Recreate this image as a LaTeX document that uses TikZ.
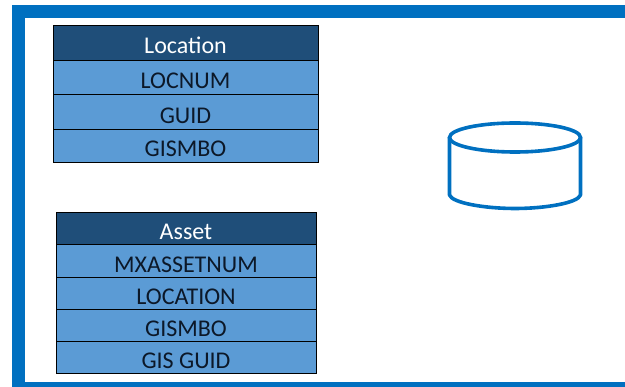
\documentclass[tikz,border=0pt]{standalone}
\usepackage{fontspec}
\setmainfont{Carlito}
\usetikzlibrary{positioning}
\definecolor{frameblue}{RGB}{0,112,192}
\definecolor{headblue}{RGB}{31,78,121}
\definecolor{rowblue}{RGB}{91,155,213}
\definecolor{rowtext}{RGB}{12,24,40}

\begin{document}
\begin{tikzpicture}[x=1pt,y=-1pt,node distance=0pt,line width=1pt]
  \tikzstyle{head}=[draw=black,fill=headblue,text=white,font=\fontsize{24}{28}\selectfont,
                    text height=22pt,text depth=0pt,inner sep=0pt,outer sep=0pt]
  \tikzstyle{row}=[draw=black,fill=rowblue,text=rowtext,font=\fontsize{24}{28}\selectfont,
                   text height=22pt,text depth=0pt,inner sep=0pt,outer sep=0pt]
  \useasboundingbox (0,0) rectangle (625,387);

  % frame
  \begin{scope}
    \clip (0,0) rectangle (625,387);
    \draw[frameblue,line width=13pt] (18.5,11.5) rectangle (660,388.5);
  \end{scope}

  % location table
  \node[head,minimum width=265pt,minimum height=35pt,anchor=north west] (location) at (53,25.5) {Location};
  \node[row,minimum width=265pt,minimum height=34.5pt] (locnum) [below=of location] {LOCNUM};
  \node[row,minimum width=265pt,minimum height=34.5pt] (guid) [below=of locnum] {GUID};
  \node[row,minimum width=265pt,minimum height=33pt] (locgismbo) [below=of guid] {GISMBO};

  % asset table
  \node[head,minimum width=260pt,minimum height=32.5pt,anchor=north west] (asset) at (56,212.5) {Asset};
  \node[row,minimum width=260pt,minimum height=32.5pt] (assetnum) [below=of asset] {MXASSETNUM};
  \node[row,minimum width=260pt,minimum height=32pt] (assetloc) [below=of assetnum] {LOCATION};
  \node[row,minimum width=260pt,minimum height=32pt] (assetgismbo) [below=of assetloc] {GISMBO};
  \node[row,minimum width=260pt,minimum height=32pt] (gisguid) [below=of assetgismbo] {GIS GUID};

  % cylinder
  \draw[frameblue,line width=3.6pt] (515,137.5) ellipse [x radius=65.5pt,y radius=14.5pt];
  \draw[frameblue,line width=3.6pt,line join=round] (449.5,137.5) -- (449.5,195)
    .. controls (452,203) and (485,208.5) .. (515,208.5)
    .. controls (545,208.5) and (578,203) .. (580.5,195) -- (580.5,137.5);
\end{tikzpicture}
\end{document}
